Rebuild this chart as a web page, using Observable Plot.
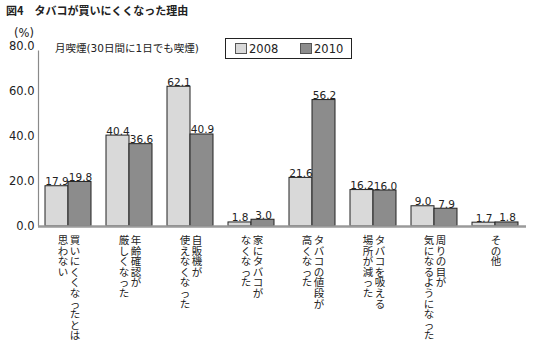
<!DOCTYPE html>
<html><head><meta charset="utf-8">
<script src="https://cdn.jsdelivr.net/npm/d3@7"></script>
<script src="https://cdn.jsdelivr.net/npm/@observablehq/plot@0.6"></script>
<style>
body{margin:0;background:#fff;color:#222;font-family:"DejaVu Sans","Noto Sans CJK JP",sans-serif;}
#wrap{position:relative;width:533px;height:353px;overflow:hidden;}
#title{position:absolute;left:6px;top:2px;height:20px;font-family:"Noto Sans CJK JP",sans-serif;font-weight:bold;font-size:11px;line-height:16px;white-space:nowrap;}
#title .n{margin-right:11px;}
#chart{position:absolute;left:0;top:22px;}
#unit{position:absolute;left:14px;top:25px;font-size:11.5px;line-height:16px;}
#sub{position:absolute;left:55px;top:40px;font-size:10.5px;line-height:16px;white-space:nowrap;}
#legend{position:absolute;left:225px;top:38px;width:127px;height:21px;border:1px solid #222;box-sizing:border-box;font-size:11.5px;}
#legend .it{position:absolute;top:3px;line-height:14px;}
#legend .sw{display:inline-block;width:10px;height:9px;border:1px solid #555;vertical-align:-1px;margin-right:2px;}
</style></head>
<body><div id="wrap">
<div id="title"><span class="n">図4</span>タバコが買いにくくなった理由</div>
<div id="chart"></div>
<div id="unit">(%)</div>
<div id="sub">月喫煙(30日間に1日でも喫煙)</div>
<div id="legend"></div>
</div>
<script>
const categories = ["c1","c2","c3","c4","c5","c6","c7","c8"];
const labelCol1 = ["買いにくくなったとは","年齢確認が","自販機が","家にタバコが","タバコの値段が","タバコを吸える","周りの目が","その他"];
const labelCol2 = ["思わない","厳しくなった","使えなくなった","なくなった","高くなった","場所が減った","気になるようになった",""];
const years = ["2008","2010"];
const values2008 = [17.9, 40.4, 62.1, 1.8, 21.6, 16.2, 9.0, 1.7];
const values2010 = [19.8, 36.6, 40.9, 3.0, 56.2, 16.0, 7.9, 1.8];
const yTicks = [0, 20, 40, 60, 80];
const colors = {"2008": "#d9d9d9", "2010": "#8c8c8c"};

const rows = categories.map((c, i) => ({cat: c, v2008: values2008[i], v2010: values2010[i], col1: labelCol1[i], col2: labelCol2[i]}));
const vert = s => s.split("").join("\n");
const jp = "Noto Sans CJK JP";
const catText = {x: "cat", y: () => 0, dy: 10, lineAnchor: "top", fontFamily: jp, fontSize: 10.5, lineHeight: 1.01, fill: "#222"};

const chart = Plot.plot({
  width: 533, height: 331,
  marginLeft: 38, marginRight: 7, marginTop: 24, marginBottom: 127,
  x: {domain: categories, padding: 0, axis: null},
  y: {domain: [0, 80], ticks: yTicks, tickFormat: d => d.toFixed(1), tickSize: 0, tickPadding: 4, label: null},
  style: {fontFamily: "DejaVu Sans", fontSize: "11.5px", color: "#222", background: "transparent"},
  marks: [
    Plot.ruleX([categories[0]], {x: d => d, y1: 0, y2: 78, dx: -30.5, stroke: "#8a8a8a", strokeWidth: 1.2}),
    Plot.barY(rows, {x: "cat", y: "v2008", fill: colors["2008"], stroke: "#222", strokeWidth: 1, insetLeft: 7, insetRight: 31}),
    Plot.barY(rows, {x: "cat", y: "v2010", fill: colors["2010"], stroke: "#222", strokeWidth: 1, insetLeft: 30, insetRight: 8}),
    Plot.ruleY([0], {stroke: "#9a9a9a", strokeWidth: 2.5}),
    Plot.text(rows, {x: "cat", y: "v2008", text: d => d.v2008.toFixed(1), dx: -12, dy: -1, lineAnchor: "bottom", fontSize: 10.5, fill: "#222"}),
    Plot.text(rows, {x: "cat", y: "v2010", text: d => d.v2010.toFixed(1), dx: 11.5, dy: -1, lineAnchor: "bottom", fontSize: 10.5, fill: "#222"}),
    Plot.text(rows.filter(d => d.col2), {...catText, text: d => vert(d.col1), dx: 6}),
    Plot.text(rows.filter(d => d.col2), {...catText, text: d => vert(d.col2), dx: -6}),
    Plot.text(rows.filter(d => !d.col2), {...catText, text: d => vert(d.col1), dx: 0})
  ]
});
document.getElementById("chart").appendChild(chart);

const legend = document.getElementById("legend");
years.forEach((y, i) => {
  const it = document.createElement("div");
  it.className = "it";
  it.style.left = (i === 0 ? 9 : 74) + "px";
  it.innerHTML = `<span class="sw" style="background:${colors[y]}"></span>${y}`;
  legend.appendChild(it);
});
</script>
</body></html>
